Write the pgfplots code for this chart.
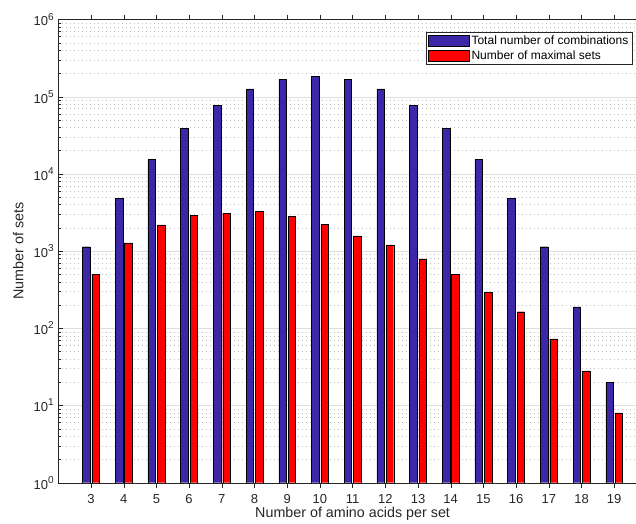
\documentclass[border=0pt]{standalone}
\usepackage{pgfplots}
\pgfplotsset{compat=1.18}
\usepackage{fontspec}
\setmainfont{Liberation Sans}
\definecolor{barblue}{RGB}{62,38,168}
\definecolor{axgray}{RGB}{38,38,38}
\newcommand\tp[1]{10\raisebox{0.45em}{\fontsize{10}{10}\selectfont #1}}
\begin{document}
\begin{tikzpicture}
\path[use as bounding box] (-58.3pt,-40.3pt) rectangle (577.7pt,482.7pt);
\clip (-58.3pt,-40.3pt) rectangle (577.7pt,482.7pt);
\begin{axis}[
  at={(0,0)}, anchor=south west,
  scale only axis, width=588.6pt, height=463.2pt,
  xmin=2, xmax=20, ymode=log, ymin=1, ymax=1e6,
  ybar, bar width=0.229,
  xtick={3,...,19},
  ytick={1,10,100,1000,10000,100000,1000000},
  yticklabels={\tp{0},\tp{1},\tp{2},\tp{3},\tp{4},\tp{5},\tp{6}},
  ticklabel style={font=\fontsize{13}{13}\selectfont, text=axgray},
  xticklabel style={yshift=-3pt, /pgf/number format/assume math mode=true},
  yticklabel style={xshift=-1pt},
  axis line style={axgray},
  major tick length=5pt, minor tick length=3pt,
  every tick/.style={axgray},
  ymajorgrids, yminorgrids,
  major grid style={solid, black!13},
  minor grid style={black!25, dash pattern=on 0.8pt off 3.2pt},
  xlabel={Number of amino acids per set},
  ylabel={Number of sets},
  label style={font=\fontsize{14.3}{14.3}\selectfont, text=axgray},
  xlabel style={at={(axis description cs:0.5,0)}, anchor=center, yshift=-31.5pt},
  ylabel style={at={(axis description cs:0,0.5)}, anchor=center, yshift=40pt},
  legend style={at={(0.9747,0.973)}, anchor=north east, font=\fontsize{12}{12.5}\selectfont,
    draw=axgray, inner sep=1.5pt, row sep=0.5pt, text=black},
  legend cell align=left,
  legend image code/.code={\draw[#1] (0pt,-5.3pt) rectangle (41pt,5.3pt);},
]
\addplot[fill=barblue, draw=black, bar shift=-0.143] coordinates {
(3,1140) (4,4845) (5,15504) (6,38760) (7,77520) (8,125970) (9,167960) (10,184756)
(11,167960) (12,125970) (13,77520) (14,38760) (15,15504) (16,4845) (17,1140) (18,190) (19,20)};
\addlegendentry{Total number of combinations}
\addplot[fill=red, draw=black, bar shift=0.143] coordinates {
(3,505) (4,1275) (5,2180) (6,2900) (7,3080) (8,3250) (9,2830) (10,2220)
(11,1570) (12,1200) (13,795) (14,505) (15,293) (16,164) (17,73) (18,28) (19,8)};
\addlegendentry{Number of maximal sets}
\end{axis}
\end{tikzpicture}
\end{document}
